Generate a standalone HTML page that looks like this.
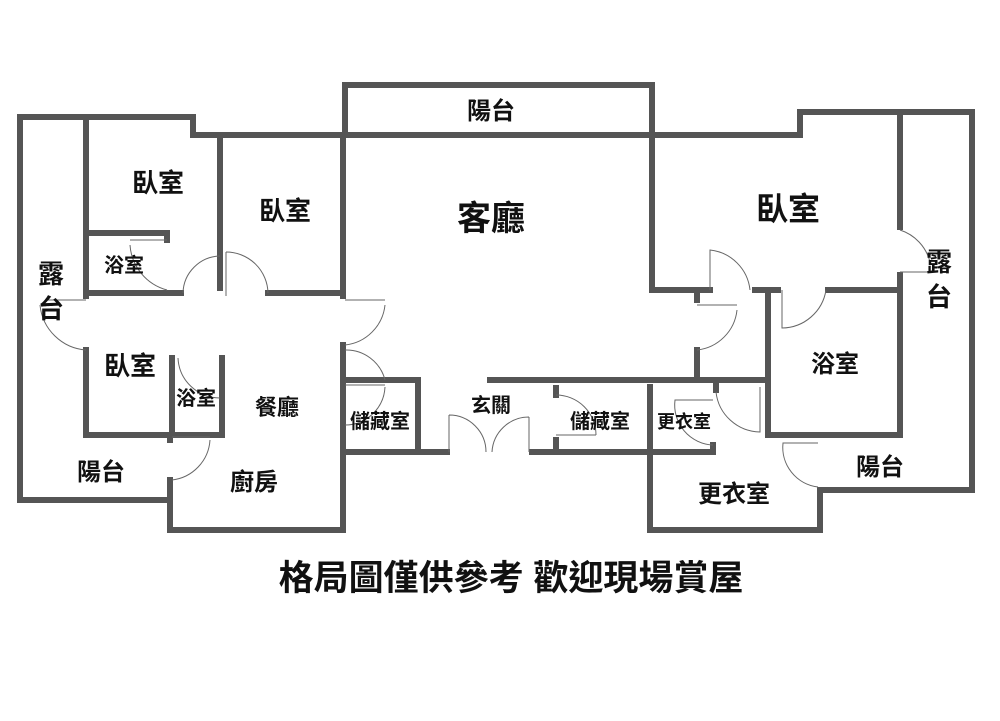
<!DOCTYPE html>
<html><head><meta charset="utf-8"><style>
html,body{margin:0;padding:0;background:#fff;}
svg{display:block;}
text{font-family:"Liberation Sans","Noto Sans CJK TC",sans-serif;fill:#111;text-anchor:middle;}
</style></head><body>
<svg width="1000" height="721" viewBox="0 0 1000 721" xmlns="http://www.w3.org/2000/svg">
<g stroke="#555" stroke-width="6" fill="none" stroke-linecap="square">
<polyline points="20,117 193,117 193,135 800,135 800,112 972,112 972,490 820,490 820,530 650,530 650,452"/>
<polyline points="345,135 345,85 652,85 652,135"/>
<polyline points="20,117 20,500 168,500"/>
<polyline points="170,480 170,530 343,530 343,345"/>
<line x1="170" y1="435" x2="170" y2="440"/>
<line x1="343" y1="135" x2="343" y2="296"/>
<line x1="86" y1="117" x2="86" y2="296"/>
<polyline points="86,350 86,435 222,435"/>
<line x1="86" y1="233" x2="167" y2="233"/>
<line x1="167" y1="233" x2="167" y2="240"/>
<line x1="86" y1="293" x2="181" y2="293"/>
<line x1="220" y1="137" x2="220" y2="288"/>
<line x1="268" y1="293" x2="343" y2="293"/>
<line x1="172" y1="358" x2="172" y2="435"/>
<line x1="222" y1="358" x2="222" y2="435"/>
<polyline points="343,380 418,380 418,452"/>
<line x1="343" y1="452" x2="447" y2="452"/>
<line x1="532" y1="452" x2="713" y2="452"/>
<line x1="490" y1="380" x2="768" y2="380"/>
<line x1="556" y1="388" x2="556" y2="395"/>
<line x1="556" y1="440" x2="556" y2="452"/>
<line x1="650" y1="387" x2="650" y2="452"/>
<line x1="713" y1="445" x2="713" y2="452"/>
<line x1="716" y1="385" x2="716" y2="390"/>
<polyline points="652,135 652,290 710,290"/>
<line x1="755" y1="290" x2="778" y2="290"/>
<line x1="697" y1="290" x2="697" y2="300"/>
<line x1="697" y1="350" x2="697" y2="378"/>
<polyline points="828,290 900,290 900,435 768,435 768,290"/>
<line x1="900" y1="112" x2="900" y2="227"/>
<line x1="900" y1="275" x2="900" y2="290"/>
</g>
<g stroke="#666" stroke-width="1" fill="none">
<path d="M86,300 L48,300 M86,350 A50,50 0 0 1 40,305"/>
<path d="M167,240 L130,240 M167,290 A50,50 0 0 1 130,245"/>
<path d="M183,293 A38,38 0 0 1 220,256 M268,293 A42,42 0 0 0 226,252"/>
<line x1="226" y1="252" x2="226" y2="296"/>
<path d="M178,358 A42,42 0 0 0 220,398"/>
<path d="M172,437 L210,437 M172,480 A43,43 0 0 0 210,440"/>
<path d="M345,300 L385,300 M345,345 A45,45 0 0 0 385,305"/>
<path d="M345,350 A40,40 0 0 1 385,380 M345,385 L385,385 M345,425 A40,40 0 0 0 385,387"/>
<path d="M449,415 L449,452 M449,415 A37,37 0 0 1 486,452 M529,417 L529,452 M529,417 A37,37 0 0 0 492,452"/>
<path d="M556,395 A40,40 0 0 1 596,435 M556,435 L596,435"/>
<path d="M710,290 L710,250 A45,45 0 0 1 750,290"/>
<path d="M697,305 L737,305 M697,350 A45,45 0 0 0 737,310"/>
<path d="M782,290 L782,328 A45,45 0 0 0 826,290"/>
<path d="M900,230 A45,45 0 0 1 930,262 M900,272 L930,272"/>
<path d="M716,392 A45,45 0 0 0 760,432 L760,387 M713,445 A40,40 0 0 1 675,400 L713,400"/>
<path d="M818,443 L783,443 A40,40 0 0 0 818,487"/>
</g>
<g font-weight="bold">
<text x="491" y="119" font-size="24">陽台</text>
<text x="158" y="192" font-size="26">臥室</text>
<text x="285" y="220" font-size="26">臥室</text>
<text x="491" y="230" font-size="34">客廳</text>
<text x="788" y="220" font-size="32">臥室</text>
<text x="124" y="272" font-size="20">浴室</text>
<text x="51" y="283" font-size="26">露</text>
<text x="51" y="318" font-size="26">台</text>
<text x="939" y="271" font-size="26">露</text>
<text x="939" y="306" font-size="26">台</text>
<text x="130" y="375" font-size="26">臥室</text>
<text x="196" y="405" font-size="20">浴室</text>
<text x="277" y="415" font-size="22">餐廳</text>
<text x="835" y="372" font-size="24">浴室</text>
<text x="380" y="428" font-size="20">儲藏室</text>
<text x="491" y="412" font-size="20">玄關</text>
<text x="600" y="428" font-size="20">儲藏室</text>
<text x="684" y="428" font-size="18">更衣室</text>
<text x="101" y="480" font-size="24">陽台</text>
<text x="254" y="490" font-size="24">廚房</text>
<text x="880" y="475" font-size="24">陽台</text>
<text x="734" y="502" font-size="24">更衣室</text>
<text x="511" y="590" font-size="35">格局圖僅供參考 歡迎現場賞屋</text>
</g>
</svg>
</body></html>
